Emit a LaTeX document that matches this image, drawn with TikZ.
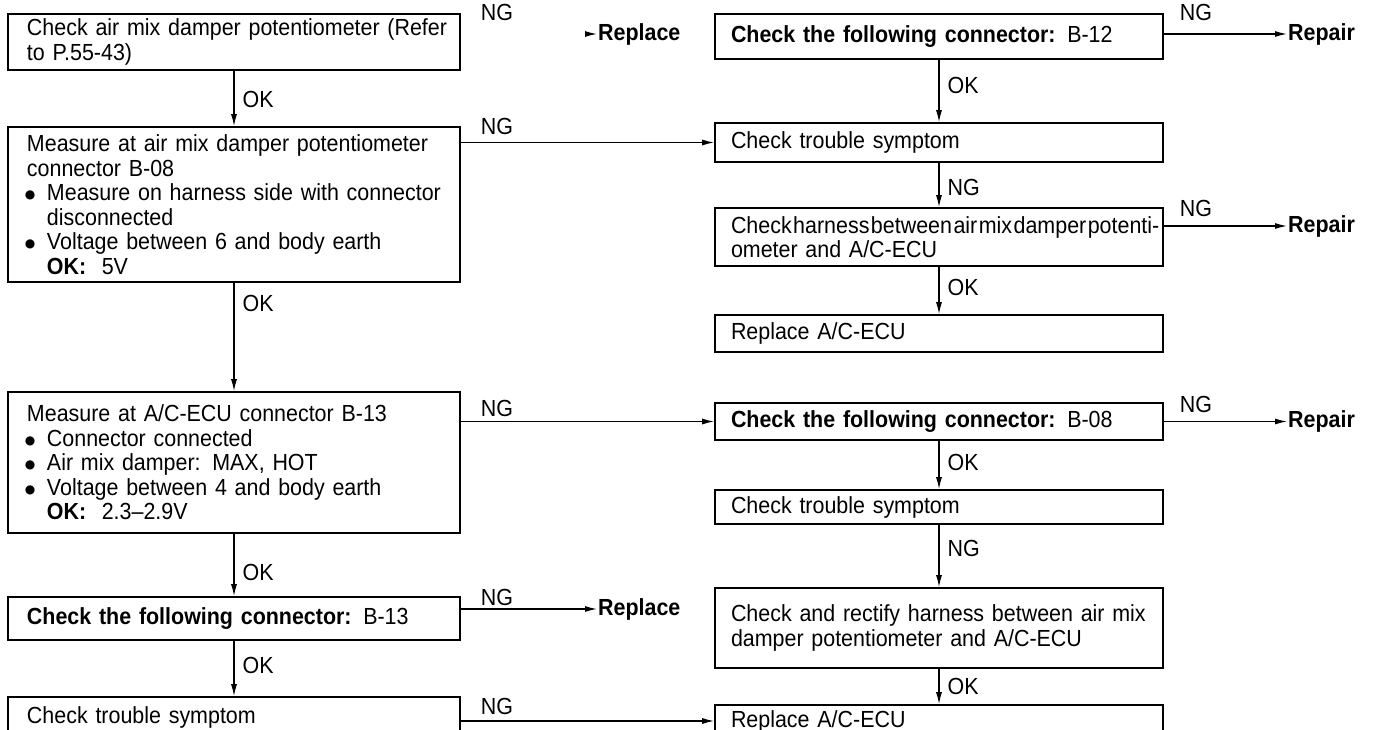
\documentclass[tikz,border=0pt]{standalone}
\usepackage{fontspec}
\setmainfont{Liberation Sans}[FakeStretch=0.92]
\newfontfamily\symfont{DejaVu Sans}
\usetikzlibrary{arrows.meta}

\newcommand\flowfont{\fontsize{23.3}{24.5}\selectfont}
% a line stretched to a given width (justified)
\newcommand\jline[2]{\makebox[#1pt][s]{#2}}
% list bullet followed by its indent
\newcommand\bul{\makebox[20pt][l]{\hspace*{-2pt}\raisebox{2pt}{\symfont\fontsize{12}{12}\selectfont ●}}}

\tikzset{
  stepbox/.style={draw, line width=1.6pt, rectangle, align=left,
    inner ysep=0pt, font=\flowfont},
  leftbox/.style={stepbox, text width=414pt, inner xsep=19pt},
  rightbox/.style={stepbox, text width=416pt, inner xsep=16pt},
  conn/.style={line width=1.3pt, -{Latex[length=12pt,width=6pt]}},
  tag/.style={font=\flowfont, inner sep=1pt},
  oklbl/.style={tag, anchor=west, xshift=7pt},
  endlbl/.style={font=\flowfont\bfseries, inner sep=1pt, anchor=west},
}

\begin{document}
\begin{tikzpicture}[x=1pt, y=-1pt]
  \fill[white] (0,0) rectangle (1385,730);
  \useasboundingbox (0,0) rectangle (1385,730);

  % left column
  \node[leftbox, minimum height=56pt] (b1) at (234,42)
    {\jline{420}{Check air mix damper potentiometer (Refer}\\to P.55-43)};
  \node[leftbox, minimum height=155pt] (b2) at (234,204.5)
    {\jline{420}{Measure at air mix damper potentiometer}\\
     connector B-08\\
     \bul\jline{400}{Measure on harness side with connector}\\
     \hspace*{20pt}disconnected\\
     \bul Voltage between 6 and body earth\\
     \hspace*{20pt}\textbf{OK:}\ \ 5V};
  \node[leftbox, minimum height=141pt] (b3) at (234,462.5)
    {Measure at A/C-ECU connector B-13\\
     \bul Connector connected\\
     \bul Air mix damper: MAX, HOT\\
     \bul Voltage between 4 and body earth\\
     \hspace*{20pt}\textbf{OK:}\ \ 2.3–2.9V};
  \node[leftbox, minimum height=43pt] (b4) at (234,618.5)
    {\textbf{Check the following connector:} B-13};
  \node[leftbox, minimum height=40pt] (b5) at (234,717)
    {Check trouble symptom};

  % right column
  \node[rightbox, minimum height=45pt] (r1) at (939,36.5)
    {\textbf{Check the following connector:} B-12};
  \node[rightbox, minimum height=39pt] (r2) at (939,142.5)
    {Check trouble symptom};
  \node[rightbox, minimum height=58pt] (r3) at (939,237)
    {{\spaceskip=1.5pt plus 30pt\jline{426}{Check harness between air mix damper potenti-}}\\
     ometer and A/C-ECU};
  \node[rightbox, minimum height=37pt] (r4) at (939,333.5)
    {Replace A/C-ECU};
  \node[rightbox, minimum height=37pt] (r5) at (939,421.5)
    {\textbf{Check the following connector:} B-08};
  \node[rightbox, minimum height=34pt] (r6) at (939,507)
    {Check trouble symptom};
  \node[rightbox, minimum height=80pt] (r7) at (939,628)
    {\jline{426}{Check and rectify harness between air mix}\\
     damper potentiometer and A/C-ECU};
  \node[rightbox, minimum height=32pt] (r8) at (939,721)
    {Replace A/C-ECU};

  % end results
  \node[endlbl] (rep1) at (597,34) {Replace};
  \node[endlbl] (rep2) at (597,609) {Replace};
  \node[endlbl] (rp1) at (1287,34) {Repair};
  \node[endlbl] (rp2) at (1287,226) {Repair};
  \node[endlbl] (rp3) at (1287,421.5) {Repair};

  % OK / NG flow downwards
  \draw[conn] (b1) -- node[oklbl, pos=0.52] {OK} (b2);
  \draw[conn] (b2) -- node[oklbl, pos=0.19] {OK} (b3);
  \draw[conn] (b3) -- node[oklbl, pos=0.62] {OK} (b4);
  \draw[conn] (b4) -- node[oklbl, pos=0.44] {OK} (b5);
  \draw[conn] (r1) -- node[oklbl, pos=0.41] {OK} (r2);
  \draw[conn] (r2) -- node[oklbl, pos=0.55] {NG} (r3);
  \draw[conn] (r3) -- node[oklbl, pos=0.44] {OK} (r4);
  \draw[conn] (r5) -- node[oklbl, pos=0.44] {OK} (r6);
  \draw[conn] (r6) -- node[oklbl, pos=0.375] {NG} (r7);
  \draw[conn] (r7) -- node[oklbl, pos=0.49] {OK} (r8);

  % NG branches to the right
  \coordinate (rep1tail) at ([xshift=-12pt]rep1.west);
  \draw[conn] (rep1tail) -- (rep1.west);
  \draw[conn] (b2.east |- r2.center) -- (r2.west);
  \draw[conn] (b3.east |- r5.center) -- (r5.west);
  \draw[conn] (b4.east |- rep2.center) -- (rep2.west);
  \draw[conn] (b5.east |- r8.center) -- (r8.west);
  \draw[conn] (r1.east |- rp1.center) -- (rp1.west);
  \draw[conn] (r3.east |- rp2.center) -- (rp2.west);
  \draw[conn] (r5.east |- rp3.center) -- (rp3.west);

  % NG tags
  \node[tag] (ng1) at (497,12) {NG};
  \node[tag] (ng2) at (497,126) {NG};
  \node[tag] (ng3) at (497,408) {NG};
  \node[tag] (ng4) at (497,597) {NG};
  \node[tag] (ng5) at (497,706) {NG};
  \node[tag] (ng6) at (1196,12) {NG};
  \node[tag] (ng7) at (1196,208) {NG};
  \node[tag] (ng8) at (1196,404) {NG};
\end{tikzpicture}
\end{document}
